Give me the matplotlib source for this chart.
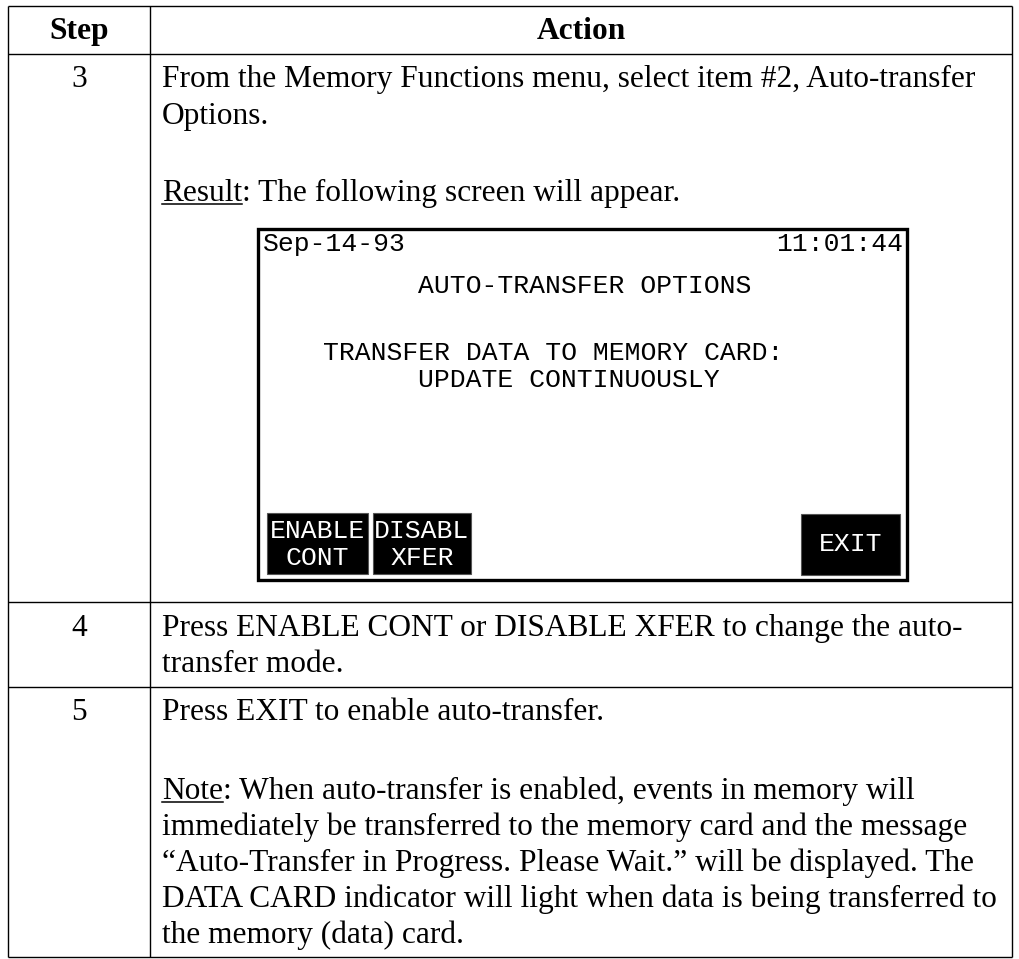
import matplotlib.pyplot as plt
from matplotlib.patches import Rectangle

# table content
headers = ['Step', 'Action']
steps = ['3', '4', '5']
step3_lines = ['From the Memory Functions menu, select item #2, Auto-transfer',
               'Options.']
step3_result = ('Result', ': The following screen will appear.')
step4_lines = ['Press ENABLE CONT or DISABLE XFER to change the auto-',
               'transfer mode.']
step5_first = 'Press EXIT to enable auto-transfer.'
step5_note = ('Note', ': When auto-transfer is enabled, events in memory will')
step5_lines = ['immediately be transferred to the memory card and the message',
               '\u201cAuto-Transfer in Progress. Please Wait.\u201d will be displayed. The',
               'DATA CARD indicator will light when data is being transferred to',
               'the memory (data) card.']

# instrument screen content
screen_date = 'Sep-14-93'
screen_time = '11:01:44'
screen_title = 'AUTO-TRANSFER OPTIONS'
screen_body = ['TRANSFER DATA TO MEMORY CARD:', 'UPDATE CONTINUOUSLY']
screen_keys = [('ENABLE', 'CONT'), ('DISABL', 'XFER')]
screen_exit = 'EXIT'

W, H = 1020, 959
fig = plt.figure(figsize=(W / 100, H / 100), dpi=100, facecolor='white')
ax = fig.add_axes([0, 0, 1, 1])
ax.set_xlim(0, W)
ax.set_ylim(H, 0)
ax.axis('off')

serif = dict(family='Liberation Serif', fontsize=22.6, color='black')
mono = dict(family='Liberation Mono', fontsize=19)

# grid
left, mid, right = 8, 150, 1012
row_y = [6, 54, 602, 687, 957]
for y in row_y:
    ax.plot([left, right], [y, y], color='black', lw=1.0, solid_capstyle='butt')
for x in [left, mid, right]:
    ax.plot([x, x], [row_y[0], row_y[-1]], color='black', lw=1.0, solid_capstyle='butt')

# header
ax.text((left + mid) / 2, 39, headers[0], ha='center', va='baseline', weight='bold', **serif)
ax.text((mid + right) / 2, 39, headers[1], ha='center', va='baseline', weight='bold', **serif)

tx = 162
step_x = (left + mid) / 2
fig.canvas.draw()
renderer = fig.canvas.get_renderer()


def underlined(x, y, word, rest):
    t = ax.text(x, y, word, ha='left', va='baseline', **serif)
    bb = t.get_window_extent(renderer=renderer)
    ax.plot([bb.x0, bb.x1], [y + 3, y + 3], color='black', lw=1.1)
    ax.text(bb.x1, y, rest, ha='left', va='baseline', **serif)


# step 3
ax.text(step_x, 87, steps[0], ha='center', va='baseline', **serif)
for line, y in zip(step3_lines, [87, 124]):
    ax.text(tx, y, line, ha='left', va='baseline', **serif)
underlined(tx, 201, *step3_result)

# screen
sx0, sx1, sy0, sy1 = 258, 907, 229, 580
ax.add_patch(Rectangle((sx0, sy0), sx1 - sx0, sy1 - sy0, fill=False,
                       edgecolor='black', lw=2.4))
ax.text(263, 251, screen_date, ha='left', va='baseline', color='black', **mono)
ax.text(903, 251, screen_time, ha='right', va='baseline', color='black', **mono)
ax.text(418, 293, screen_title, ha='left', va='baseline', color='black', **mono)
ax.text(323, 360, screen_body[0], ha='left', va='baseline', color='black', **mono)
ax.text(418, 387, screen_body[1], ha='left', va='baseline', color='black', **mono)

key_boxes = [(267, 368), (373, 471)]
for (k0, k1), (top, bottom) in zip(key_boxes, screen_keys):
    ax.add_patch(Rectangle((k0, 513), k1 - k0, 61, facecolor='black', edgecolor='#555555', lw=0.8))
    ax.text((k0 + k1) / 2, 538, top, ha='center', va='baseline', color='white', **mono)
    ax.text((k0 + k1) / 2, 565, bottom, ha='center', va='baseline', color='white', **mono)
ax.add_patch(Rectangle((801, 514), 99, 61, facecolor='black', edgecolor='#555555', lw=0.8))
ax.text(850.5, 551, screen_exit, ha='center', va='baseline', color='white', **mono)

# step 4
ax.text(step_x, 636, steps[1], ha='center', va='baseline', **serif)
for line, y in zip(step4_lines, [636, 672]):
    ax.text(tx, y, line, ha='left', va='baseline', **serif)

# step 5
ax.text(step_x, 720, steps[2], ha='center', va='baseline', **serif)
ax.text(tx, 720, step5_first, ha='left', va='baseline', **serif)
underlined(tx, 799, *step5_note)
for line, y in zip(step5_lines, [835, 871, 907, 943]):
    ax.text(tx, y, line, ha='left', va='baseline', **serif)

fig.savefig('out.png', dpi=100, facecolor='white')
